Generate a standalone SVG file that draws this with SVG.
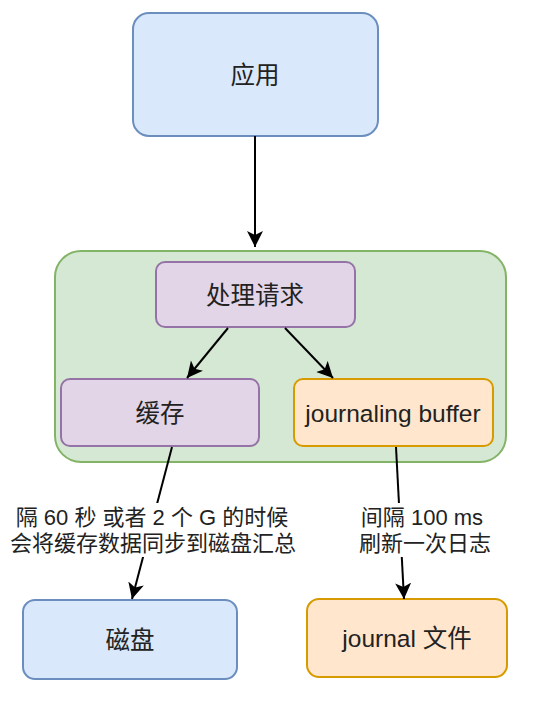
<svg xmlns="http://www.w3.org/2000/svg" width="554" height="707" viewBox="0 0 554 707">
<style>
text{font-family:"Liberation Sans","Noto Sans CJK SC",sans-serif;fill:#222;text-anchor:middle;dominant-baseline:central}
.n{font-size:24.5px}
.l{font-size:22px}
.blue{fill:#dae8fc;stroke:#6c8ebf;stroke-width:2}
.green{fill:#d5e8d4;stroke:#82b366;stroke-width:2}
.purple{fill:#e1d5e7;stroke:#9673a6;stroke-width:2}
.orange{fill:#ffe6cc;stroke:#d79b00;stroke-width:2}
.e{stroke:#000;stroke-width:2;fill:none;marker-end:url(#arr)}
</style>
<defs>
<marker id="arr" markerUnits="userSpaceOnUse" markerWidth="18" markerHeight="18" refX="16" refY="8" orient="auto" viewBox="0 0 18 18">
<path d="M0,0 L16,8 L0,16 L4,8 Z" fill="#000"/>
</marker>
</defs>
<rect width="554" height="707" fill="#fff"/>
<g id="app"><rect class="blue" x="133" y="13" width="245" height="123" rx="16"/><text class="n" x="255" y="75">应用</text></g>
<g id="server"><rect class="green" x="55" y="251" width="451" height="211" rx="26"/></g>
<g id="handle"><rect class="purple" x="156" y="262" width="199" height="65" rx="9"/><text class="n" x="255" y="295">处理请求</text></g>
<g id="cache"><rect class="purple" x="61" y="379" width="198" height="67" rx="9"/><text class="n" x="160" y="413">缓存</text></g>
<g id="jbuf"><rect class="orange" x="294" y="379" width="199" height="67" rx="9"/><text class="n" x="393" y="413">journaling buffer</text></g>
<g id="disk"><rect class="blue" x="23" y="600" width="214" height="79" rx="12"/><text class="n" x="130" y="640">磁盘</text></g>
<g id="jfile"><rect class="orange" x="307" y="599" width="200" height="78" rx="12"/><text class="n" x="407" y="638">journal 文件</text></g>
<g id="edges">
<path class="e" d="M255,136 L255,247"/>
<path class="e" d="M228,328 L187,378"/>
<path class="e" d="M285,328 L333,378"/>
<path class="e" d="M172,447 L132,599"/>
<path class="e" d="M396,447 L404,599"/>
<rect x="8" y="503" width="292" height="54" fill="#fff"/>
<text class="l" x="152" y="517">隔 60 秒 或者 2 个 G 的时候</text>
<text class="l" x="153" y="543">会将缓存数据同步到磁盘汇总</text>
<rect x="354" y="503" width="142" height="54" fill="#fff"/>
<text class="l" x="422" y="517">间隔 100 ms</text>
<text class="l" x="425" y="543">刷新一次日志</text>
</g>
</svg>
